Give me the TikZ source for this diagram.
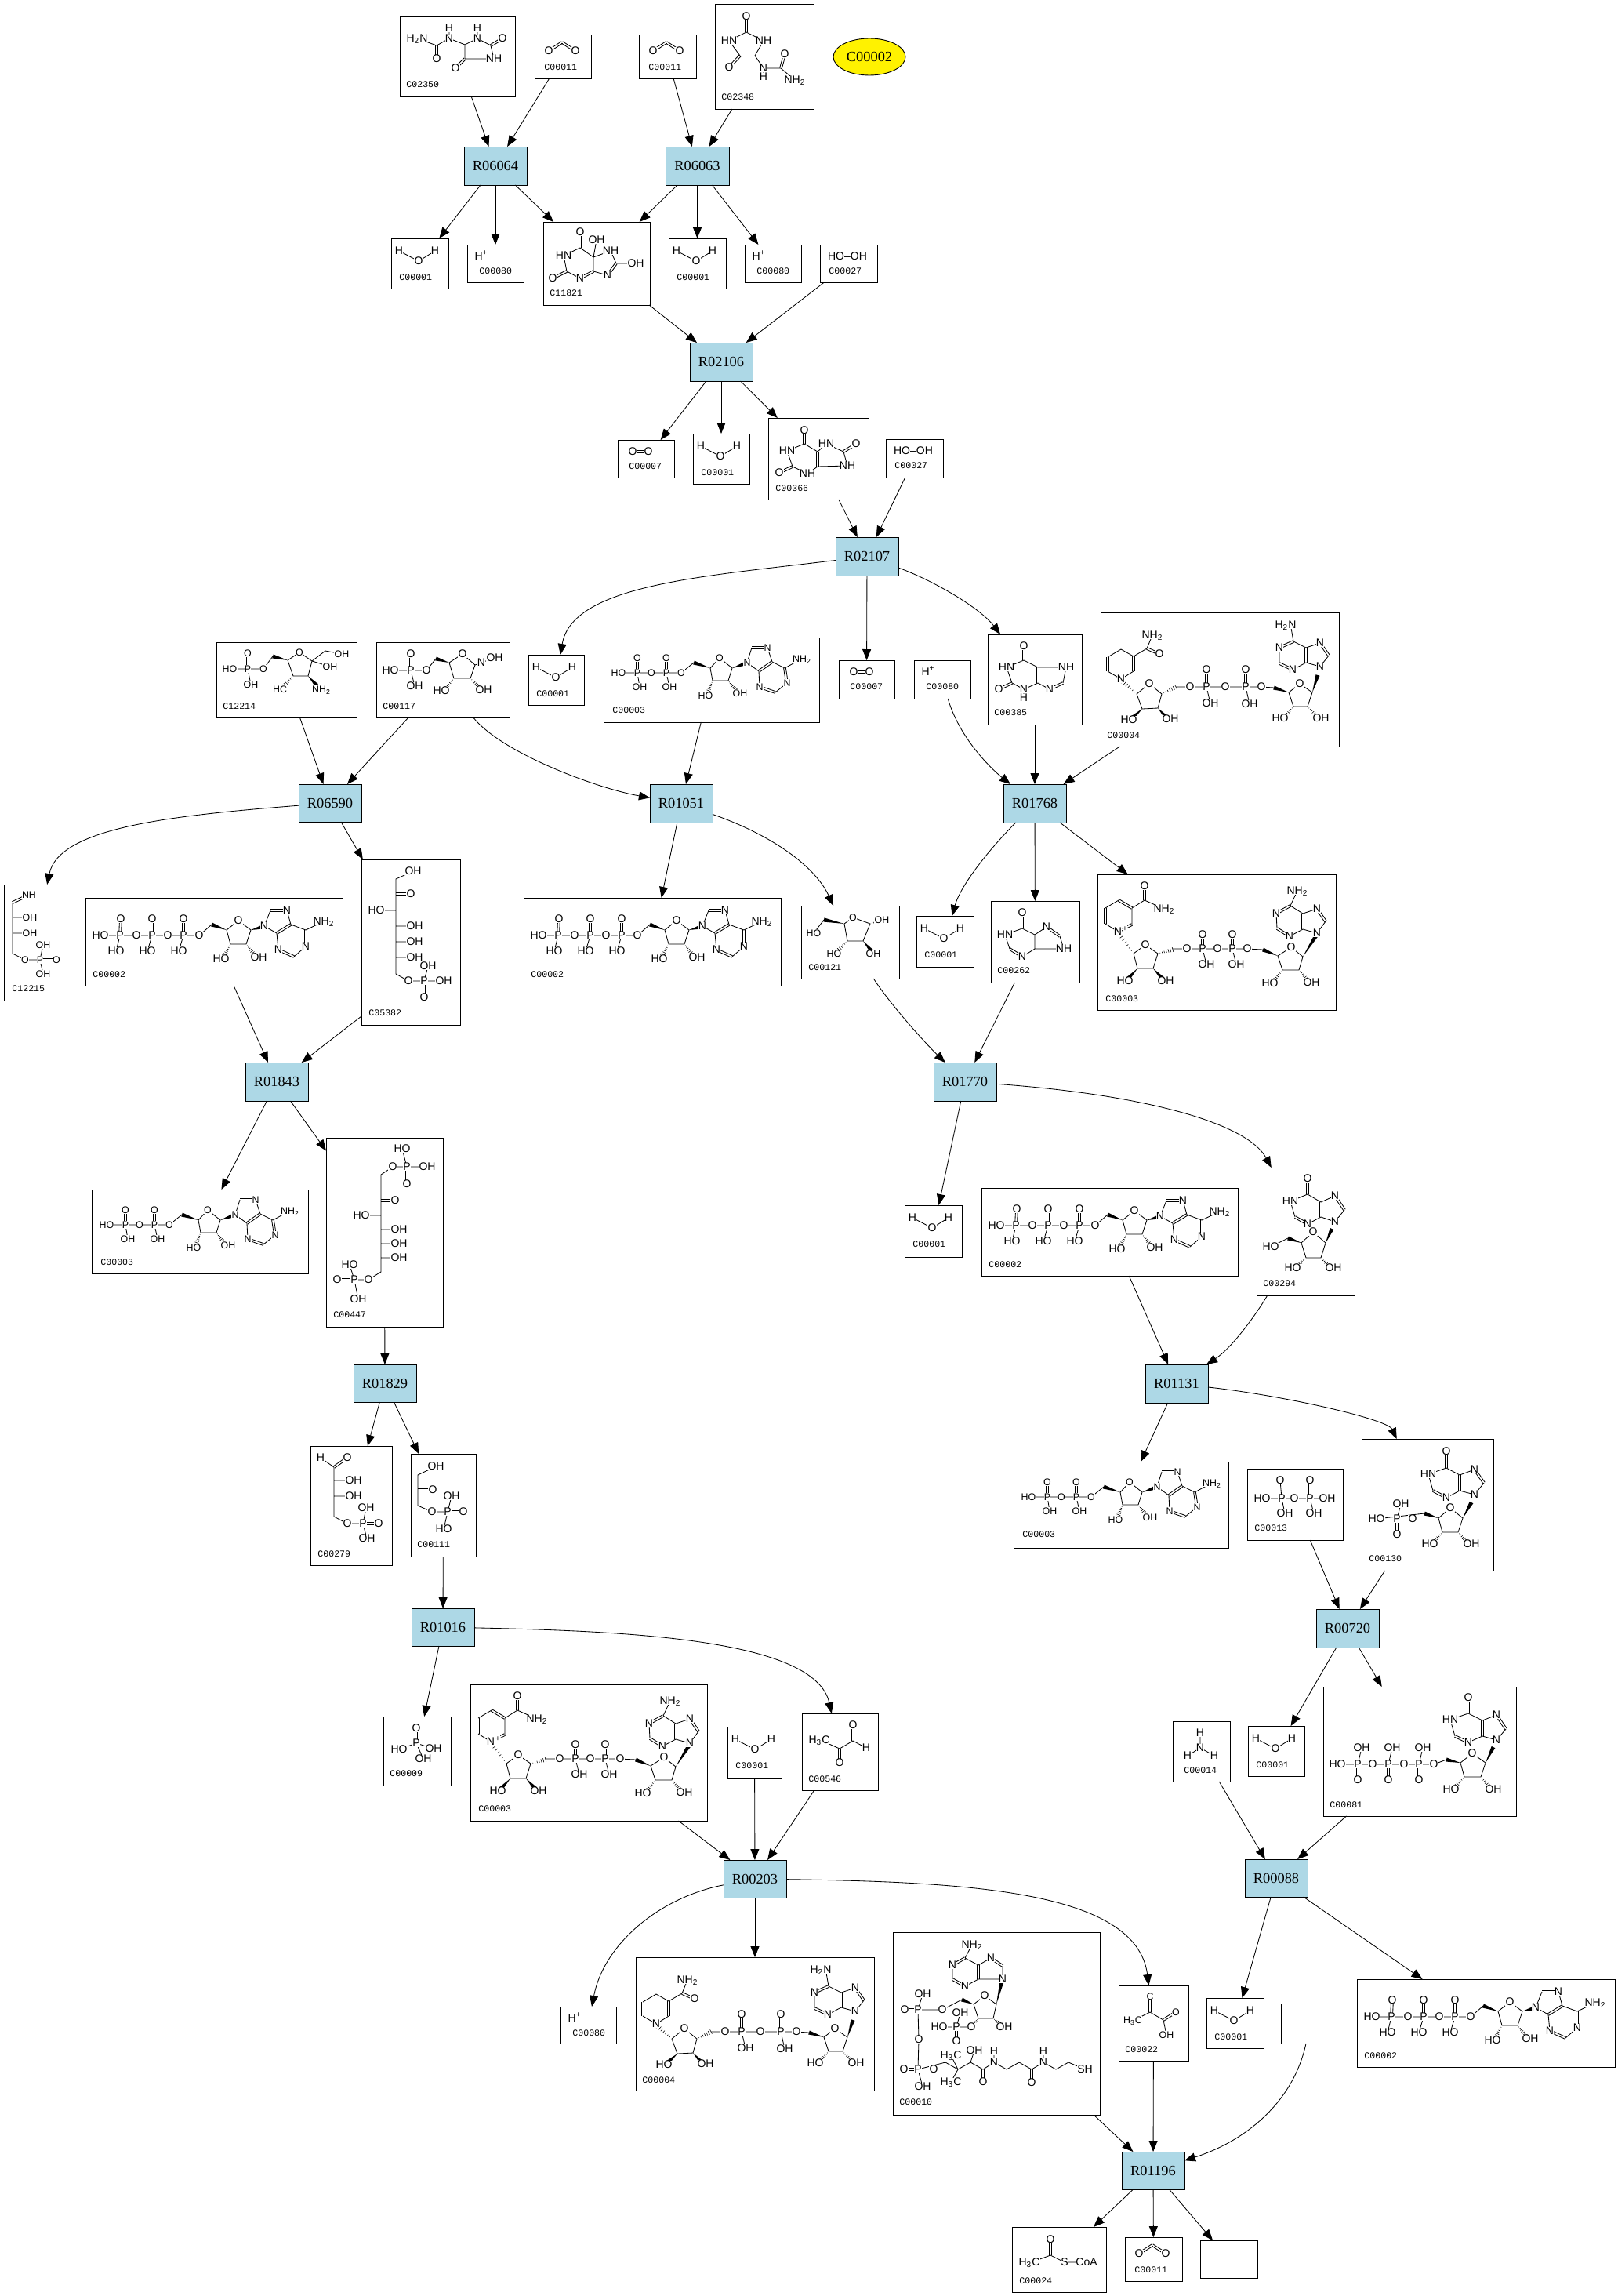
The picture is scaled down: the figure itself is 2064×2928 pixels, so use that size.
\documentclass[tikz,border=0pt]{standalone}
\usepackage{fontspec}
\usetikzlibrary{arrows.meta,calc,shapes.geometric}
\setmainfont{Liberation Sans}
\newfontfamily\lblfont{Liberation Mono}
\newfontfamily\rxfont{Liberation Serif}
\definecolor{rxblue}{HTML}{ADD8E6}
\newcount\atomno
\newcommand\afont{\fontsize{7}{7}\selectfont}
\newcommand\smallchem{\renewcommand\afont{\fontsize{6.2}{6.2}\selectfont}}
\tikzset{
  cpd/.style={draw=black,fill=white,line width=.45pt,inner sep=0pt,outer sep=0pt},
  rx/.style={draw=black,fill=rxblue,line width=.45pt,inner sep=0pt,outer sep=0pt,font=\rxfont\fontsize{9.2}{9.2}\selectfont},
  arr/.style={draw=black,line width=.42pt,-{Triangle[length=7pt,width=5.5pt]}},
  bond/.style={draw=black,line width=.42pt},
  atomlbl/.style={fill=white,inner sep=.15pt,outer sep=0pt,text height=4.8pt,text depth=0pt,font=\afont},
  codelbl/.style={anchor=west,inner sep=0pt,font=\lblfont\fontsize{5.8}{5.8}\selectfont},
}
\newcommand\atm[2]{\global\advance\atomno by 1 \node[atomlbl] (atom\the\atomno) at (#1) {#2};}
\newcommand\atoms[1]{\foreach \ax/\ay/\aT in {#1}{\atm{\ax,\ay}{\aT}}}
\newcommand\chbd[1]{\draw[bond] #1;}
\newcommand\dbl[2]{\draw[bond] ($(#1)!.7pt!90:(#2)$) -- ($(#2)!.7pt!-90:(#1)$) ($(#1)!.7pt!-90:(#2)$) -- ($(#2)!.7pt!90:(#1)$);}
\newcommand\wdg[2]{\fill[black] ($(#2)!1.3pt!90:(#1)$) -- (#1) -- ($(#2)!1.3pt!-90:(#1)$) -- cycle;}
\newcommand\hsh[2]{\foreach \hh in {.15,.29,.43,.57,.71,.85,1}{\draw[black,line width=.3pt] ($(#1)!\hh!(#2)!\hh*1.5pt!90:(#1)$) -- ($(#1)!\hh!(#2)!\hh*1.5pt!-90:(#1)$);}}
\newcommand\NHt{NH\textsubscript{2}}
\newcommand\HtN{H\textsubscript{2}N}
\newcommand\HtC{H\textsubscript{3}C}
% name x1 y1 x2 y2 label lx ly body
\newcommand\cbox[9]{%
  \node[cpd,minimum width={(#4-#2)*0.5pt},minimum height={(#5-#3)*0.5pt}] (#1) at ({(#2+#4)/2},{(#3+#5)/2}) {};
  \begin{scope}[shift={(#2,#3)}]#9
    \global\advance\atomno by 1
    \node[codelbl] (code\the\atomno) at (#7,#8) {#6};
  \end{scope}}
\newcommand\rxn[5]{\node[rx,minimum width={(#4-#2)*0.5pt},minimum height={(#5-#3)*0.5pt}] (#1) at ({(#2+#4)/2},{(#3+#5)/2}) {#1};}
% small molecules
\newcommand\mWater{\chbd{(10,16)--(35,29)--(56,16)}\atoms{10/16/H,35/29/O,56/16/H}}
\newcommand\mCO{\dbl{18,21}{35,10}\dbl{35,10}{52,21}\atoms{18/21/O,52/21/O}}
\newcommand\mHp{\atoms{18/15/H\textsuperscript{+}}}
\newcommand\mOO{\dbl{19,15}{39,15}\atoms{19/15/O,39/15/O}}
\newcommand\mHOOH{\atoms{35/15/HO–OH}}
% ATP
\newcommand\mATP{%
 \chbd{(19,48)--(145,48)--(161,34) (44,48)--(39,68) (85,48)--(79,68) (125,48)--(119,68)}
 \dbl{44,48}{45,27}\dbl{85,48}{85,27}\dbl{125,48}{125,27}
 \wdg{180,41}{161,34}
 \chbd{(180,41)--(195,29)--(211,41)--(205,59)--(185,59)--cycle}
 \hsh{185,59}{177,74}\hsh{205,59}{215,72}\wdg{211,41}{226,37}
 \chbd{(228,36)--(236,16) (257,16)--(262,34) (244,45)--(228,36) (244,45)--(246,66) (266,75)--(281,62) (281,41)--(262,34) (281,41)--(304,30)}
 \dbl{236,16}{257,16}\dbl{262,34}{244,45}\dbl{246,66}{266,75}\dbl{281,62}{281,41}
 \atoms{19/48/HO,44/48/P,45/27/O,39/68/HO,65/48/O,85/48/P,85/27/O,79/68/HO,105/48/O,125/48/P,125/27/O,119/68/HO,145/48/O,195/29/O,173/78/HO,221/76/OH,228/36/N,257/16/N,246/66/N,281/62/N,304/30/\NHt}}
% ADP
\newcommand\mADP{\smallchem
 \chbd{(19,45)--(99,45)--(115,32) (43,45)--(46,63) (80,45)--(84,63)}
 \dbl{43,45}{43,26}\dbl{80,45}{80,26}
 \wdg{136,39}{115,32}
 \chbd{(136,39)--(148,26)--(164,39)--(159,55)--(139,55)--cycle}
 \hsh{139,55}{133,70}\hsh{159,55}{168,67}\wdg{164,39}{181,33}
 \chbd{(183,32)--(189,13) (209,13)--(215,31) (198,43)--(183,32) (198,43)--(199,63) (219,70)--(234,58) (231,39)--(215,31) (231,39)--(253,27)}
 \dbl{189,13}{209,13}\dbl{215,31}{198,43}\dbl{199,63}{219,70}\dbl{234,58}{231,39}
 \atoms{19/45/HO,43/45/P,43/26/O,46/63/OH,61/45/O,80/45/P,80/26/O,84/63/OH,99/45/O,148/26/O,130/74/HO,174/71/OH,183/32/N,209/13/N,199/63/N,234/58/N,253/27/\NHt}}
% NAD+
\newcommand\mNAD{%
 \chbd{(26,73)--(10,63) (44,64)--(44,43) (27,33)--(10,43) (44,43)--(60,33)--(85,44)}
 \dbl{26,73}{44,64}\dbl{44,43}{27,33}\dbl{10,43}{10,63}\dbl{60,33}{60,15}
 \hsh{46,101}{28,76}
 \chbd{(46,101)--(61,90)--(77,101)--(71,120)--(51,120)--cycle}
 \wdg{51,120}{39,133}\wdg{71,120}{83,133}\hsh{77,101}{96,96}
 \chbd{(96,95)--(191,95)--(211,96) (134,95)--(139,115) (172,95)--(177,115)}
 \dbl{134,95}{134,77}\dbl{172,95}{172,77}
 \wdg{230,104}{211,96}
 \chbd{(230,104)--(247,93)--(262,105)--(257,122)--(236,122)--cycle}
 \hsh{236,122}{225,136}\hsh{257,122}{268,135}\wdg{262,105}{279,78}
 \chbd{(280,75)--(291,60) (280,44)--(262,50) (262,70)--(280,75) (262,70)--(245,79) (229,69)--(228,50) (246,40)--(262,50) (246,40)--(255,21)}
 \dbl{291,60}{280,44}\dbl{262,50}{262,70}\dbl{245,79}{229,69}\dbl{228,50}{246,40}
 \atoms{26/73/N,35/68/{\tiny+},60/15/O,85/44/\NHt,61/90/O,35/136/HO,87/136/OH,114/95/O,134/95/P,134/77/O,139/115/OH,153/95/O,172/95/P,172/77/O,177/115/OH,191/95/O,247/93/O,220/139/HO,273/138/OH,280/75/N,280/44/N,245/79/N,228/50/N,255/21/\NHt}}
% NADH
\newcommand\mNADH{%
 \chbd{(26,85)--(9,75) (9,57)--(26,47)--(42,56) (42,75)--(26,85) (42,56)--(59,46)--(66,29)}
 \dbl{9,75}{9,57}\dbl{42,56}{42,75}\dbl{59,46}{75,53}
 \hsh{46,104}{28,88}
 \chbd{(46,104)--(62,91)--(78,104)--(73,122)--(53,123)--cycle}
 \wdg{53,123}{41,134}\wdg{73,122}{84,134}\hsh{78,104}{96,95}
 \chbd{(96,95)--(205,95)--(221,96) (135,95)--(140,116) (185,95)--(190,117)}
 \dbl{135,95}{135,73}\dbl{185,95}{185,73}
 \wdg{240,102}{221,96}
 \chbd{(240,102)--(254,91)--(270,102)--(264,120)--(246,120)--cycle}
 \hsh{246,120}{235,133}\hsh{264,120}{276,133}\wdg{270,102}{277,80}
 \chbd{(280,69)--(291,55) (280,39)--(262,45) (262,64)--(280,69) (262,64)--(245,73) (228,65)--(228,45) (246,37)--(262,45) (246,37)--(243,20)}
 \dbl{291,55}{280,39}\dbl{262,45}{262,64}\dbl{245,73}{228,65}\dbl{228,45}{246,37}
 \atoms{26/85/N,75/53/O,66/29/\NHt,62/91/O,36/137/HO,89/136/OH,114/95/O,135/95/P,135/73/O,140/116/OH,159/95/O,185/95/P,185/73/O,190/117/OH,205/95/O,254/91/O,229/135/HO,281/135/OH,280/69/N,280/39/N,245/73/N,228/45/N,236/16/\HtN}}
% Coenzyme A
\newcommand\mCoA{%
 \chbd{(92,33)--(101,16) (76,42)--(76,60) (92,69)--(109,60) (109,42)--(92,33) (109,42)--(125,33) (140,43)--(140,60) (140,60)--(109,60)}
 \dbl{92,33}{76,42}\dbl{76,60}{92,69}\dbl{109,60}{109,42}\dbl{125,33}{140,43}
 \wdg{132,92}{139,63}
 \chbd{(132,92)--(117,81)--(103,92)--(109,110)--(128,110)--cycle}
 \wdg{103,92}{88,86}
 \chbd{(88,86)--(63,99)--(32,99)--(38,79) (32,99)--(33,137)--(32,175)--(38,197) (32,175)--(67,166)--(83,175)--(99,166)--(115,175)--(129,166)--(145,175)--(161,166)--(177,175)--(192,166)--(208,175)--(224,166)--(245,175) (83,175)--(74,157) (83,175)--(74,191) (99,166)--(104,151) (129,166)--(129,152) (192,166)--(192,152) (100,121)--(59,121) (81,121)--(86,103)}
 \dbl{32,99}{15,99}\dbl{32,175}{14,175}\dbl{115,175}{115,191}\dbl{177,175}{177,192}\dbl{81,121}{81,139}
 \hsh{109,110}{101,120}\hsh{128,110}{138,118}
 \atoms{101/16/\NHt,76/42/N,92/69/N,125/33/N,140/60/N,117/81/O,142/121/OH,63/99/O,32/99/P,15/99/O,38/79/OH,33/137/O,32/175/P,14/175/O,38/197/OH,52/175/O,74/157/\HtC,74/191/\HtC,104/151/OH,115/191/O,129/166/N,129/152/H,177/192/O,192/166/N,192/152/H,245/175/SH,100/121/O,81/121/P,59/121/HO,86/103/OH,81/139/O}}
\begin{document}
\begin{tikzpicture}[x=0.5pt,y=-0.5pt]
\useasboundingbox (0,0) rectangle (2064,2928);
\fill[white] (0,0) rectangle (2064,2928);
% ---- reactions
\rxn{R06064}{592}{187}{672}{236}
\rxn{R06063}{849}{187}{930}{236}
\rxn{R02106}{880}{437}{960}{486}
\rxn{R02107}{1066}{685}{1146}{734}
\rxn{R06590}{381}{1000}{461}{1048}
\rxn{R01051}{829}{1000}{909}{1049}
\rxn{R01768}{1280}{1000}{1360}{1049}
\rxn{R01843}{313}{1355}{393}{1404}
\rxn{R01770}{1191}{1355}{1271}{1404}
\rxn{R01829}{451}{1740}{531}{1788}
\rxn{R01131}{1461}{1740}{1541}{1789}
\rxn{R01016}{525}{2051}{605}{2099}
\rxn{R00720}{1679}{2052}{1759}{2101}
\rxn{R00203}{923}{2372}{1003}{2420}
\rxn{R00088}{1588}{2371}{1668}{2419}
\rxn{R01196}{1431}{2744}{1511}{2792}
\node[ellipse,draw=black,fill=yellow,line width=.45pt,inner sep=0pt,minimum width=46pt,minimum height=23.5pt,font=\rxfont\fontsize{9.2}{9.2}\selectfont] (C00002y) at (1109,72.5) {C00002};
% ---- compounds
\cbox{C02350}{510}{21}{657}{123}{C02350}{8}{87}{%
 \chbd{(22,28)--(47,37)--(63,28)--(83,36)--(99,28)--(116,37)--(120,54)--(83,54)--(83,36) (63,28)--(63,15) (99,28)--(99,15)}
 \dbl{47,37}{47,54}\dbl{116,37}{131,28}\dbl{83,54}{71,66}
 \atoms{22/28/\HtN,47/54/O,63/28/N,63/15/H,99/28/N,99/15/H,131/28/O,120/54/NH,71/66/O}}
\cbox{C00011a}{682}{44}{754}{100}{C00011}{12}{42}{\mCO}
\cbox{C00011b}{815}{44}{888}{100}{C00011}{12}{42}{\mCO}
\cbox{C02348}{912}{5}{1038}{139}{C02348}{8}{119}{%
 \chbd{(18,47)--(40,36)--(62,47)--(51,66)--(62,82)--(84,82)--(102,97) (18,47)--(32,66) (62,82)--(62,93)}
 \dbl{40,36}{40,16}\dbl{32,66}{18,81}\dbl{84,82}{89,64}
 \atoms{40/16/O,18/47/HN,62/47/NH,18/81/O,62/82/N,62/93/H,89/64/O,102/97/\NHt}}
\cbox{C00001a}{499}{304}{572}{368}{C00001}{10}{50}{\mWater}
\cbox{C00080a}{596}{312}{668}{360}{C00080}{15}{34}{\mHp}
\cbox{C11821}{693}{283}{829}{389}{C11821}{8}{91}{%
 \chbd{(47,33)--(26,43)--(30,63)--(47,72) (47,33)--(64,45)--(86,37)--(93,53)--(118,53) (64,45)--(64,63) (64,45)--(68,23) (82,68)--(64,63)}
 \dbl{47,33}{47,13}\dbl{30,63}{12,72}\dbl{47,72}{64,63}\dbl{93,53}{82,68}
 \atoms{47/13/O,68/23/OH,26/43/HN,12/72/O,47/72/N,86/37/NH,118/53/OH,82/68/N}}
\cbox{C00001b}{853}{304}{926}{368}{C00001}{10}{50}{\mWater}
\cbox{C00080b}{950}{312}{1022}{360}{C00080}{15}{34}{\mHp}
\cbox{C00027a}{1046}{312}{1119}{360}{C00027}{11}{34}{\mHOOH}
\cbox{C00007a}{788}{561}{860}{609}{C00007}{14}{34}{\mOO}
\cbox{C00001c}{884}{553}{956}{617}{C00001}{10}{50}{\mWater}
\cbox{C00366}{980}{533}{1108}{637}{C00366}{9}{90}{%
 \chbd{(46,33)--(24,42)--(31,62)--(50,71)--(63,62)--(101,61)--(96,43)--(74,33)--(63,43)--(46,33)}
 \dbl{46,33}{46,16}\dbl{31,62}{14,70}\dbl{63,62}{63,43}\dbl{96,43}{112,33}
 \atoms{46/16/O,24/42/HN,14/70/O,50/71/NH,74/33/HN,112/33/O,101/61/NH}}
\cbox{C00027b}{1130}{560}{1203}{609}{C00027}{11}{34}{\mHOOH}
\cbox{C00001d}{674}{835}{745}{899}{C00001}{10}{50}{\mWater}
\cbox{C00003a}{770}{813}{1045}{921}{C00003}{11}{93}{\mADP}
\cbox{C00007b}{1070}{842}{1141}{891}{C00007}{14}{34}{\mOO}
\cbox{C00080c}{1166}{842}{1238}{891}{C00080}{15}{34}{\mHp}
\cbox{C00385}{1260}{809}{1380}{924}{C00385}{8}{100}{%
 \chbd{(46,33)--(24,42)--(31,62)--(46,70)--(64,62) (46,70)--(46,81) (64,42)--(46,33) (64,42)--(100,42)--(96,62) (79,70)--(64,62)}
 \dbl{46,33}{46,15}\dbl{31,62}{14,70}\dbl{64,62}{64,42}\dbl{96,62}{79,70}
 \atoms{46/15/O,24/42/HN,14/70/O,46/70/N,46/81/H,100/42/NH,79/70/N}}
\cbox{C00004a}{1404}{781}{1708}{952}{C00004}{8}{157}{\mNADH}
\cbox{C12214}{276}{819}{455}{915}{C12214}{8}{82}{\smallchem
 \chbd{(17,34)--(60,34)--(72,18) (40,34)--(44,54) (91,23)--(106,13)--(122,24)--(117,43)--(98,43)--(91,23) (122,24)--(145,31) (122,24)--(139,11)--(160,15)}
 \dbl{40,34}{40,14}\wdg{91,23}{72,18}\hsh{98,43}{86,56}\wdg{117,43}{128,55}
 \atoms{17/34/HO,40/34/P,40/14/O,44/54/OH,60/34/O,106/13/O,160/15/OH,145/31/OH,81/60/HC,134/60/\NHt}}
\cbox{C00117}{480}{819}{650}{915}{C00117}{8}{82}{%
 \chbd{(18,36)--(64,36)--(76,21) (44,36)--(49,56) (93,26)--(110,15)--(126,29)--(120,46)--(99,46)--(93,26) (126,29)--(134,26)--(151,20)}
 \dbl{44,36}{44,15}\wdg{93,26}{76,21}\hsh{99,46}{88,60}\hsh{120,46}{132,58}
 \atoms{18/36/HO,44/36/P,44/15/O,49/56/OH,64/36/O,110/15/O,83/62/HO,137/61/OH,134/26/N,151/20/OH}}
\cbox{C00262}{1264}{1149}{1377}{1253}{C00262}{8}{89}{%
 \chbd{(40,35)--(18,43)--(24,61) (40,71)--(56,61)--(56,43)--(40,35) (56,43)--(71,33) (88,45)--(93,61)--(56,61)}
 \dbl{40,35}{40,15}\dbl{24,61}{40,71}\dbl{71,33}{88,45}
 \atoms{40/15/O,18/43/HN,40/71/N,71/33/N,93/61/NH}}
\cbox{C00003b}{1400}{1115}{1704}{1288}{C00003}{10}{159}{\mNAD}
\cbox{C12215}{5}{1128}{85}{1276}{C12215}{10}{133}{\smallchem
 \chbd{(11,23)--(11,88)--(27,96)--(46,96) (11,42)--(33,42) (11,62)--(33,62) (46,96)--(50,77) (46,96)--(50,114)}
 \dbl{32,13}{11,23}\dbl{46,96}{67,96}
 \atoms{32/13/NH,33/42/OH,33/62/OH,27/96/O,46/96/P,67/96/O,50/77/OH,50/114/OH}}
\cbox{C00002a}{109}{1145}{437}{1257}{C00002}{9}{98}{\mATP}
\cbox{C05382}{461}{1096}{587}{1307}{C05382}{9}{196}{%
 \chbd{(66,15)--(44,25)--(44,146)--(60,155)--(105,155) (44,65)--(19,65) (44,85)--(68,85) (44,105)--(68,105) (44,125)--(68,125) (80,155)--(85,136)}
 \dbl{44,44}{63,44}\dbl{80,155}{80,176}
 \atoms{66/15/OH,63/44/O,19/65/HO,68/85/OH,68/105/OH,68/125/OH,60/155/O,80/155/P,85/136/OH,105/155/OH,80/176/O}}
\cbox{C00002b}{668}{1145}{996}{1257}{C00002}{9}{98}{\mATP}
\cbox{C00121}{1022}{1155}{1147}{1248}{C00121}{9}{79}{\smallchem
 \chbd{(29,18)--(16,35) (55,23)--(66,15)--(88,23)--(79,45)--(59,45)--(55,23)}
 \wdg{55,23}{29,18}\hsh{88,23}{103,18}\hsh{59,45}{46,58}\wdg{79,45}{90,58}
 \atoms{16/35/HO,66/15/O,103/18/OH,42/61/HO,92/61/OH}}
\cbox{C00001e}{1169}{1168}{1242}{1233}{C00001}{10}{50}{\mWater}
\cbox{C00003c}{117}{1517}{393}{1624}{C00003}{11}{93}{\mADP}
\cbox{C00447}{416}{1451}{565}{1692}{C00447}{9}{226}{%
 \chbd{(85,37)--(70,47)--(70,171)--(54,181)--(36,181) (85,37)--(129,37) (103,37)--(97,14) (70,99)--(45,99) (70,117)--(93,117) (70,135)--(93,135) (70,153)--(93,153) (36,181)--(30,162) (36,181)--(41,206)}
 \dbl{103,37}{103,59}\dbl{70,80}{88,80}\dbl{36,181}{14,181}
 \atoms{97/14/HO,85/37/O,103/37/P,129/37/OH,103/59/O,88/80/O,45/99/HO,93/117/OH,93/135/OH,93/153/OH,54/181/O,36/181/P,14/181/O,30/162/HO,41/206/OH}}
\cbox{C00001i}{1154}{1537}{1227}{1603}{C00001}{10}{50}{\mWater}
\cbox{C00002c}{1252}{1515}{1579}{1627}{C00002}{9}{98}{\mATP}
\cbox{C00294}{1603}{1489}{1728}{1652}{C00294}{8}{148}{%
 \chbd{(65,34)--(43,43)--(49,63) (65,72)--(82,63) (82,44)--(65,34) (82,44)--(100,36) (112,54)--(100,69)--(82,63) (57,96)--(72,82)--(88,96)--(82,115)--(63,115)--(57,96) (40,90)--(18,101)}
 \dbl{65,34}{65,14}\dbl{49,63}{65,72}\dbl{82,63}{82,44}\dbl{100,36}{112,54}
 \wdg{88,96}{96,78}\wdg{57,96}{40,90}\hsh{63,115}{52,126}\hsh{82,115}{92,126}
 \atoms{65/14/O,43/43/HN,65/72/N,100/36/N,100/69/N,72/82/O,18/101/HO,46/128/HO,98/128/OH}}
\cbox{C00279}{396}{1844}{500}{1996}{C00279}{9}{138}{%
 \chbd{(13,15)--(30,27)--(30,90)--(47,99)--(67,99) (30,44)--(55,44) (30,64)--(55,64) (67,99)--(71,79) (67,99)--(72,118)}
 \dbl{30,27}{47,15}\dbl{67,99}{87,99}
 \atoms{13/15/H,47/15/O,55/44/OH,55/64/OH,47/99/O,67/99/P,87/99/O,71/79/OH,72/118/OH}}
\cbox{C00111}{524}{1854}{607}{1985}{C00111}{8}{116}{%
 \chbd{(32,16)--(9,27)--(9,66)--(27,74)--(47,74) (47,74)--(52,54) (47,74)--(42,96)}
 \dbl{9,46}{28,46}\dbl{47,74}{67,74}
 \atoms{32/16/OH,28/46/O,27/74/O,47/74/P,67/74/O,52/54/OH,42/96/HO}}
\cbox{C00003e}{1293}{1864}{1567}{1974}{C00003}{11}{93}{\mADP}
\cbox{C00013}{1591}{1873}{1713}{1964}{C00013}{9}{76}{%
 \chbd{(19,38)--(102,38) (44,38)--(42,15) (44,38)--(48,57) (80,38)--(85,57)}
 \dbl{80,38}{80,15}
 \atoms{19/38/HO,44/38/P,42/15/O,48/57/OH,60/38/O,80/38/P,80/15/O,85/57/OH,102/38/OH}}
\cbox{C00130}{1737}{1835}{1905}{2003}{C00130}{9}{153}{%
 \chbd{(108,37)--(85,45)--(91,66) (108,75)--(125,66) (125,46)--(108,37) (125,46)--(144,39) (156,56)--(144,71)--(125,66) (98,101)--(113,88)--(129,101)--(123,119)--(103,119)--(98,101) (80,95)--(19,102) (45,102)--(50,83)}
 \dbl{108,37}{108,16}\dbl{91,66}{108,75}\dbl{125,66}{125,46}\dbl{144,39}{156,56}\dbl{45,102}{45,122}
 \wdg{129,101}{140,81}\wdg{98,101}{80,95}\hsh{103,119}{92,131}\hsh{123,119}{134,131}
 \atoms{108/16/O,85/45/HN,108/75/N,144/39/N,144/71/N,113/88/O,65/102/O,45/102/P,19/102/HO,50/83/OH,45/122/O,87/134/HO,140/134/OH}}
\cbox{C00009}{489}{2189}{575}{2277}{C00009}{8}{73}{%
 \chbd{(20,42)--(42,34)--(64,41) (42,34)--(51,54)}
 \dbl{42,34}{42,15}
 \atoms{42/15/O,42/34/P,20/42/HO,64/41/OH,51/54/OH}}
\cbox{C00003d}{600}{2148}{902}{2322}{C00003}{10}{159}{\mNAD}
\cbox{C00001f}{928}{2202}{997}{2268}{C00001}{10}{50}{\mWater}
\cbox{C00546}{1023}{2185}{1120}{2283}{C00546}{8}{84}{%
 \chbd{(28,36)--(48,45)--(65,35)--(82,44)}
 \dbl{48,45}{48,63}\dbl{65,35}{65,15}
 \atoms{22/34/\HtC,48/63/O,65/15/O,82/44/H}}
\cbox{C00014}{1496}{2195}{1569}{2272}{C00014}{14}{63}{%
 \chbd{(35,15)--(35,34)--(19,44) (35,34)--(53,44)}
 \atoms{35/15/H,35/34/N,19/44/H,53/44/H}}
\cbox{C00001h}{1592}{2201}{1664}{2265}{C00001}{10}{50}{\mWater}
\cbox{C00081}{1688}{2151}{1934}{2316}{C00081}{8}{151}{%
 \chbd{(18,99)--(141,99)--(157,93) (44,99)--(49,78) (83,99)--(88,78) (122,99)--(127,78)
  (185,34)--(162,42)--(168,63) (185,71)--(203,63) (203,43)--(185,34) (203,43)--(221,36) (233,54)--(221,68)--(203,63) (175,97)--(190,85)--(207,97)--(201,115)--(180,115)--(175,97)}
 \dbl{44,99}{44,119}\dbl{83,99}{83,119}\dbl{122,99}{122,119}
 \dbl{185,34}{185,14}\dbl{168,63}{185,71}\dbl{203,63}{203,43}\dbl{221,36}{233,54}
 \wdg{207,97}{217,77}\wdg{175,97}{157,93}\hsh{180,115}{168,128}\hsh{201,115}{212,128}
 \atoms{18/99/HO,44/99/P,49/78/OH,44/119/O,63/99/O,83/99/P,88/78/OH,83/119/O,103/99/O,122/99/P,127/78/OH,122/119/O,141/99/O,185/14/O,162/42/HN,185/71/N,221/36/N,221/68/N,190/85/O,163/131/HO,217/131/OH}}
\cbox{C00080d}{715}{2559}{786}{2606}{C00080}{15}{34}{\mHp}
\cbox{C00004b}{811}{2496}{1115}{2666}{C00004}{8}{157}{\mNADH}
\cbox{C00010}{1139}{2464}{1403}{2697}{C00010}{8}{217}{\mCoA}
\cbox{C00022}{1427}{2532}{1516}{2628}{C00022}{8}{82}{\smallchem
 \chbd{(24,42)--(40,34)--(57,44)--(61,63)}
 \dbl{40,34}{40,14}\dbl{57,44}{73,34}
 \atoms{40/14/C,18/44/\HtC,73/34/O,61/63/OH}}
\cbox{C00001g}{1539}{2548}{1612}{2612}{C00001}{10}{50}{\mWater}
\cbox{EmptyA}{1634}{2555}{1709}{2606}{}{0}{0}{}
\cbox{C00002d}{1731}{2524}{2060}{2636}{C00002}{9}{98}{\mATP}
\cbox{C00024}{1291}{2840}{1411}{2923}{C00024}{9}{69}{%
 \chbd{(30,43)--(49,36)--(67,45)--(95,45)}
 \dbl{49,36}{49,16}
 \atoms{22/45/\HtC,49/16/O,67/45/S,95/45/CoA}}
\cbox{C00011c}{1435}{2853}{1508}{2909}{C00011}{12}{42}{\mCO}
\cbox{EmptyB}{1531}{2857}{1604}{2905}{}{0}{0}{}
% ---- connectors
\draw[arr] (C02350) -- (R06064);
\draw[arr] (C00011a) -- (R06064);
\draw[arr] (C00011b) -- (R06063);
\draw[arr] (C02348) -- (R06063);
\draw[arr] (R06064) -- (C00001a);
\draw[arr] (R06064) -- (C00080a);
\draw[arr] (R06064) -- (C11821);
\draw[arr] (R06063) -- (C11821);
\draw[arr] (R06063) -- (C00001b);
\draw[arr] (R06063) -- (C00080b);
\draw[arr] (C11821) -- (R02106);
\draw[arr] (C00027a) -- (R02106);
\draw[arr] (R02106) -- (C00007a);
\draw[arr] (R02106) -- (C00001c);
\draw[arr] (R02106) -- (C00366);
\draw[arr] (C00366) -- (R02107);
\draw[arr] (C00027b) -- (R02107);
\draw[arr] (R02107) .. controls (900,735) and (730,745) .. (C00001d);
\draw[arr] (R02107) -- (C00007b);
\draw[arr] (R02107) .. controls (1190,740) and (1250,775) .. (C00385);
\draw[arr] (C00003a) -- (R01051);
\draw[arr] (C00080c) .. controls (1225,945) and (1270,985) .. (R01768);
\draw[arr] (C00385) -- (R01768);
\draw[arr] (C00004a) -- (R01768);
\draw[arr] (C12214) -- (R06590);
\draw[arr] (C00117) -- (R06590);
\draw[arr] (C00117) .. controls (640,960) and (760,1005) .. (R01051);
\draw[arr] (R06590) .. controls (220,1040) and (75,1055) .. (C12215);
\draw[arr] (R06590) -- (C05382);
\draw[arr] (C00002a) -- (R01843);
\draw[arr] ([shift={(0,-11)}]C05382.south west) -- (R01843);
\draw[arr] (R01051) -- (C00002b);
\draw[arr] (R01051) .. controls (985,1065) and (1040,1105) .. (C00121);
\draw[arr] (R01768) .. controls (1260,1085) and (1225,1130) .. (C00001e);
\draw[arr] (R01768) -- (C00262);
\draw[arr] (R01768) -- (C00003b);
\draw[arr] (C00121) .. controls (1135,1280) and (1180,1330) .. (R01770);
\draw[arr] (C00262) -- (R01770);
\draw[arr] (R01770) -- (C00001i);
\draw[arr] (R01770) .. controls (1450,1395) and (1590,1430) .. (C00294);
\draw[arr] (R01843) -- (C00003c);
\draw[arr] (R01843) -- (C00447);
\draw[arr] (C00447) -- (R01829);
\draw[arr] (R01829) -- (C00279);
\draw[arr] (R01829) -- (C00111);
\draw[arr] (C00111) -- (R01016);
\draw[arr] (R01016) -- (C00009);
\draw[arr] (R01016) .. controls (800,2080) and (1040,2090) .. (C00546);
\draw[arr] (C00002c) -- (R01131);
\draw[arr] (C00294) .. controls (1600,1680) and (1570,1720) .. (R01131);
\draw[arr] (R01131) -- (C00003e);
\draw[arr] (R01131) .. controls (1640,1780) and (1770,1810) .. (C00130);
\draw[arr] (C00013) -- (R00720);
\draw[arr] (C00130) -- (R00720);
\draw[arr] (R00720) -- (C00001h);
\draw[arr] (R00720) -- (C00081);
\draw[arr] (C00014) -- (R00088);
\draw[arr] (C00081) -- (R00088);
\draw[arr] (R00088) -- (C00001g);
\draw[arr] (R00088) -- (C00002d);
\draw[arr] (C00003d) -- (R00203);
\draw[arr] (C00001f) -- (R00203);
\draw[arr] (C00546) -- (R00203);
\draw[arr] (R00203) .. controls (840,2420) and (770,2480) .. (C00080d);
\draw[arr] (R00203) -- (C00004b);
\draw[arr] (R00203) .. controls (1230,2400) and (1450,2410) .. (C00022);
\draw[arr] (C00010) -- (R01196);
\draw[arr] (C00022) -- (R01196);
\draw[arr] (EmptyA) .. controls (1650,2680) and (1590,2730) .. (R01196);
\draw[arr] (R01196) -- (C00024);
\draw[arr] (R01196) -- (C00011c);
\draw[arr] (R01196) -- (EmptyB);
\end{tikzpicture}
\end{document}
